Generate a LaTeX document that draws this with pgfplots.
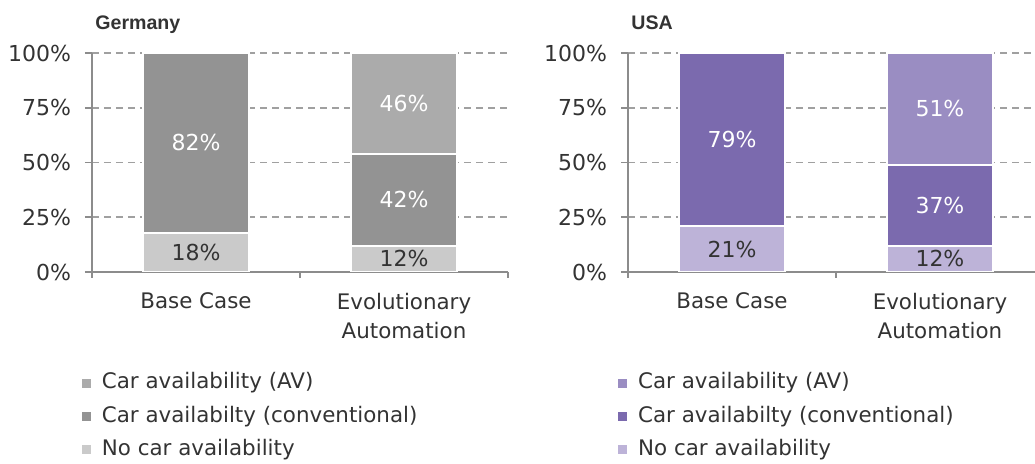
\documentclass[border=0pt]{standalone}
\usepackage{fontspec}
\setmainfont{DejaVu Sans}
\newfontfamily\titlefont{Liberation Sans}
\usepackage{pgfplots}
\pgfplotsset{compat=1.18}

\definecolor{txt}{HTML}{333333}
\definecolor{axgray}{HTML}{8C8C8C}
\definecolor{gridgray}{HTML}{A0A0A0}
\definecolor{deAV}{HTML}{ABABAB}
\definecolor{deConv}{HTML}{939393}
\definecolor{deNo}{HTML}{CACACA}
\definecolor{usAV}{HTML}{9A8DC2}
\definecolor{usConv}{HTML}{7B6AAE}
\definecolor{usNo}{HTML}{BDB3D8}

\pgfplotsset{
  panel/.style={
    scale only axis, height=109.5pt,
    ybar stacked, bar width=53pt,
    ymin=0, ymax=100, xmin=-0.5,
    axis x line*=bottom, axis y line*=left,
    axis line style={draw=axgray, line width=0.8pt, -},
    ytick={0,25,50,75,100},
    yticklabels={0\%,25\%,50\%,75\%,100\%},
    ymajorgrids,
    major grid style={draw=gridgray, line width=0.8pt, dash pattern=on 3.5pt off 2.5pt},
    tick align=outside,
    major tick length=3.5pt, minor tick length=3pt,
    y tick style={draw=axgray, line width=0.8pt},
    major x tick style={draw=none},
    minor x tick style={draw=axgray, line width=0.8pt},
    xtick={0,1}, minor xtick={-0.5,0.5,1.5},
    xticklabels={Base Case,{Evolutionary\\Automation}},
    xticklabel style={align=center, font=\fontsize{10.7}{14.5}\selectfont, text=txt, yshift=-3.5pt},
    yticklabel style={font=\fontsize{11}{13}\selectfont, text=txt, xshift=-3.5pt},
    every axis plot/.append style={draw=white, line width=1pt},
    visualization depends on=rawy \as \rawy,
    nodes near coords={\pgfmathprintnumber[assume math mode=true]{\rawy}\%},
    every node near coord/.append style={anchor=center, font=\fontsize{11}{13}\selectfont},
    reverse legend,
    legend cell align=left,
    legend style={draw=none, fill=none, inner sep=0pt, row sep=4.1pt,
      font=\fontsize{10.7}{13}\selectfont, text=txt,
      nodes={inner sep=1pt, text height=8pt, text depth=2.5pt},
      /tikz/every odd column/.append style={column sep=3.5pt},
      at={(axis description cs:-0.03,-0.45)}, anchor=north west},
    legend image code/.code={\fill[##1] (0pt,-2.75pt) rectangle (5.5pt,2.75pt);},
  },
  white labels/.style={every node near coord/.append style={text=white}},
  dark labels/.style={every node near coord/.append style={text=txt}},
}

\begin{document}
\begin{tikzpicture}
\useasboundingbox (0,0) rectangle (517.5pt,232pt);

\node[anchor=base west, inner sep=0pt, font=\titlefont\fontsize{9.8}{11}\selectfont\bfseries, text=txt] at (47.5pt,217pt) {Germany};
\node[anchor=base west, inner sep=0pt, font=\titlefont\fontsize{9.8}{11}\selectfont\bfseries, text=txt] at (315.5pt,217pt) {USA};

\begin{axis}[panel, at={(46pt,96pt)}, anchor=south west, width=208pt, xmax=1.5]
  \addplot[fill=deNo, dark labels] coordinates {(0,18) (1,12)};
  \addplot[fill=deConv, white labels] coordinates {(0,82) (1,42)};
  \addplot[fill=deAV, white labels] coordinates {(0,0) (1,46)};
  \legend{No car availability, Car availabilty (conventional), Car availability (AV)}
\end{axis}

\begin{axis}[panel, at={(314pt,96pt)}, anchor=south west, width=203.5pt, xmax=1.457]
  \addplot[fill=usNo, dark labels] coordinates {(0,21) (1,12)};
  \addplot[fill=usConv, white labels] coordinates {(0,79) (1,37)};
  \addplot[fill=usAV, white labels] coordinates {(0,0) (1,51)};
  \legend{No car availability, Car availabilty (conventional), Car availability (AV)}
\end{axis}
\end{tikzpicture}
\end{document}
